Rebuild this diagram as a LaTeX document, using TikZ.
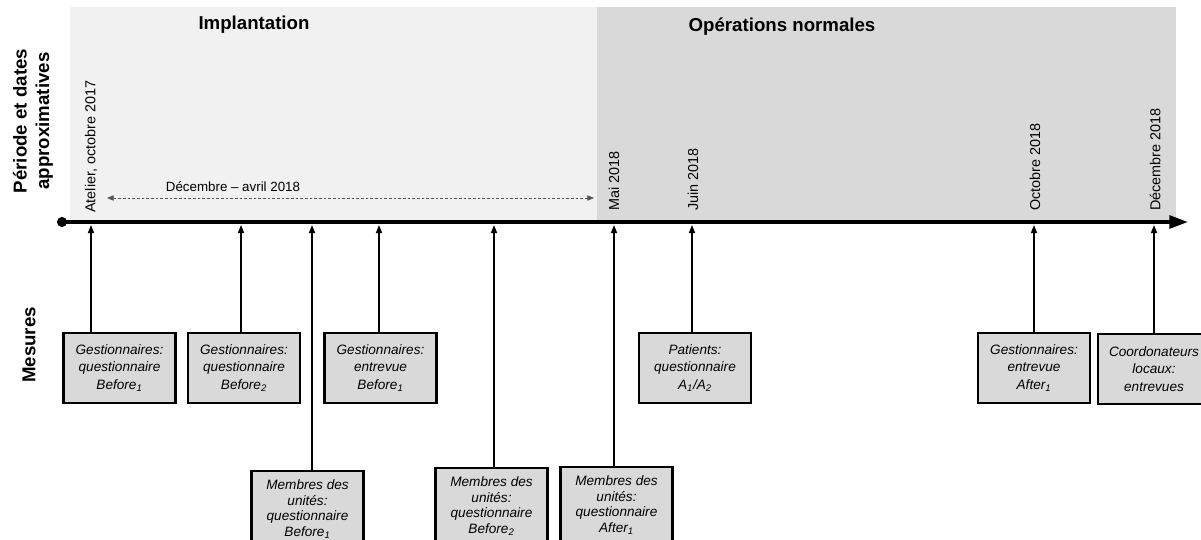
\documentclass[tikz,border=0pt]{standalone}
\usepackage{fontspec}
\setmainfont{Liberation Sans}
\usetikzlibrary{arrows.meta}
\definecolor{bglight}{HTML}{F1F1F1}
\definecolor{bgdark}{HTML}{D9D9D9}
\definecolor{boxfill}{HTML}{D9D9D9}
\definecolor{dashgray}{HTML}{555555}
\tikzset{
  mbox/.style={draw=black, line width=1.9pt, fill=boxfill, minimum width=84pt,
    minimum height=52.5pt, align=center, inner sep=1pt,
    font=\fontsize{10.2}{13.2}\selectfont\itshape},
  mboxtall/.style={mbox, minimum height=57pt, font=\fontsize{10.2}{11.8}\selectfont\itshape},
  datelbl/.style={rotate=90, anchor=west, inner sep=0pt, font=\fontsize{10.8}{12}\selectfont},
  titlelbl/.style={inner sep=0pt, font=\fontsize{14}{16}\selectfont\bfseries},
  sidelbl/.style={rotate=90, align=center, inner sep=0pt, font=\fontsize{14}{17}\selectfont\bfseries},
  uparrow/.style={line width=1.1pt, -{Triangle[length=6pt,width=4.5pt]}},
  axisline/.style={line width=2.8pt, -{Triangle[length=14pt,width=9.5pt]}},
  spanarrow/.style={draw=dashgray, line width=0.5pt, dash pattern=on 2pt off 1.5pt,
    {Triangle[length=5pt,width=4pt]}-{Triangle[length=5pt,width=4pt]}}
}
\begin{document}
\begin{tikzpicture}[x=0.75pt,y=-0.75pt]
\clip (0,0) rectangle (1201,539);
\fill[white] (0,0) rectangle (1201,539);
% background periods
\fill[bglight] (70,7) rectangle (597,220);
\fill[bgdark] (597,7) rectangle (1176,220);
\node[titlelbl] (impl) at (254,25) {Implantation};
\node[titlelbl] (opn) at (782,27) {Opérations normales};
% side labels
\node[sidelbl] (period) at (33,121) {Période et dates\\approximatives};
\node[sidelbl] (mes) at (29,345) {Mesures};
% axis
\coordinate (axs) at (62,222);
\coordinate (axe) at (1188,222);
\draw[axisline] (axs) -- (axe);
\fill (axs) circle (3.8pt);
% date labels
\node[datelbl] (d1) at (91,213) {Atelier, octobre 2017};
\node[datelbl] (d2) at (614,211) {Mai 2018};
\node[datelbl] (d3) at (693,211) {Juin 2018};
\node[datelbl] (d4) at (1035,211) {Octobre 2018};
\node[datelbl] (d5) at (1155,211) {Décembre 2018};
% span arrow
\coordinate (sa) at (107,198);
\coordinate (sb) at (594,198);
\draw[spanarrow] (sa) -- (sb);
\node[inner sep=0pt, font=\fontsize{10}{12}\selectfont] (span) at (233,187) {Décembre -- avril 2018};
% targets on axis
\coordinate (t1) at (91,225);
\coordinate (t2) at (241,225);
\coordinate (t3) at (312,225);
\coordinate (t4) at (379,225);
\coordinate (t5) at (494,225);
\coordinate (t6) at (614,225);
\coordinate (t7) at (692,225);
\coordinate (t8) at (1034,225);
\coordinate (t9) at (1154,225);
% boxes
\node[mbox] (b1) at (119.5,368) {Gestionnaires:\\questionnaire\\Before\textsubscript{1}};
\node[mbox] (b2) at (244,368) {Gestionnaires:\\questionnaire\\Before\textsubscript{2}};
\node[mbox] (b3) at (380.5,368) {Gestionnaires:\\entrevue\\Before\textsubscript{1}};
\node[mboxtall] (m1) at (307.5,509) {Membres des\\unités:\\questionnaire\\Before\textsubscript{1}};
\node[mboxtall] (m2) at (491.5,506) {Membres des\\unités:\\questionnaire\\Before\textsubscript{2}};
\node[mboxtall] (ma) at (616.5,505) {Membres des\\unités:\\questionnaire\\After\textsubscript{1}};
\node[mbox] (pat) at (695,368) {Patients:\\questionnaire\\A\textsubscript{1}/A\textsubscript{2}};
\node[mbox] (ga) at (1034,368) {Gestionnaires:\\entrevue\\After\textsubscript{1}};
\node[mbox] (co) at (1154,369) {Coordonateurs\\locaux:\\entrevues};
% connectors
\draw[uparrow] (b1.north -| t1) -- (t1);
\draw[uparrow] (b2.north -| t2) -- (t2);
\draw[uparrow] (m1.north -| t3) -- (t3);
\draw[uparrow] (b3.north -| t4) -- (t4);
\draw[uparrow] (m2.north -| t5) -- (t5);
\draw[uparrow] (ma.north -| t6) -- (t6);
\draw[uparrow] (pat.north -| t7) -- (t7);
\draw[uparrow] (ga.north -| t8) -- (t8);
\draw[uparrow] (co.north -| t9) -- (t9);
\end{tikzpicture}
\end{document}
